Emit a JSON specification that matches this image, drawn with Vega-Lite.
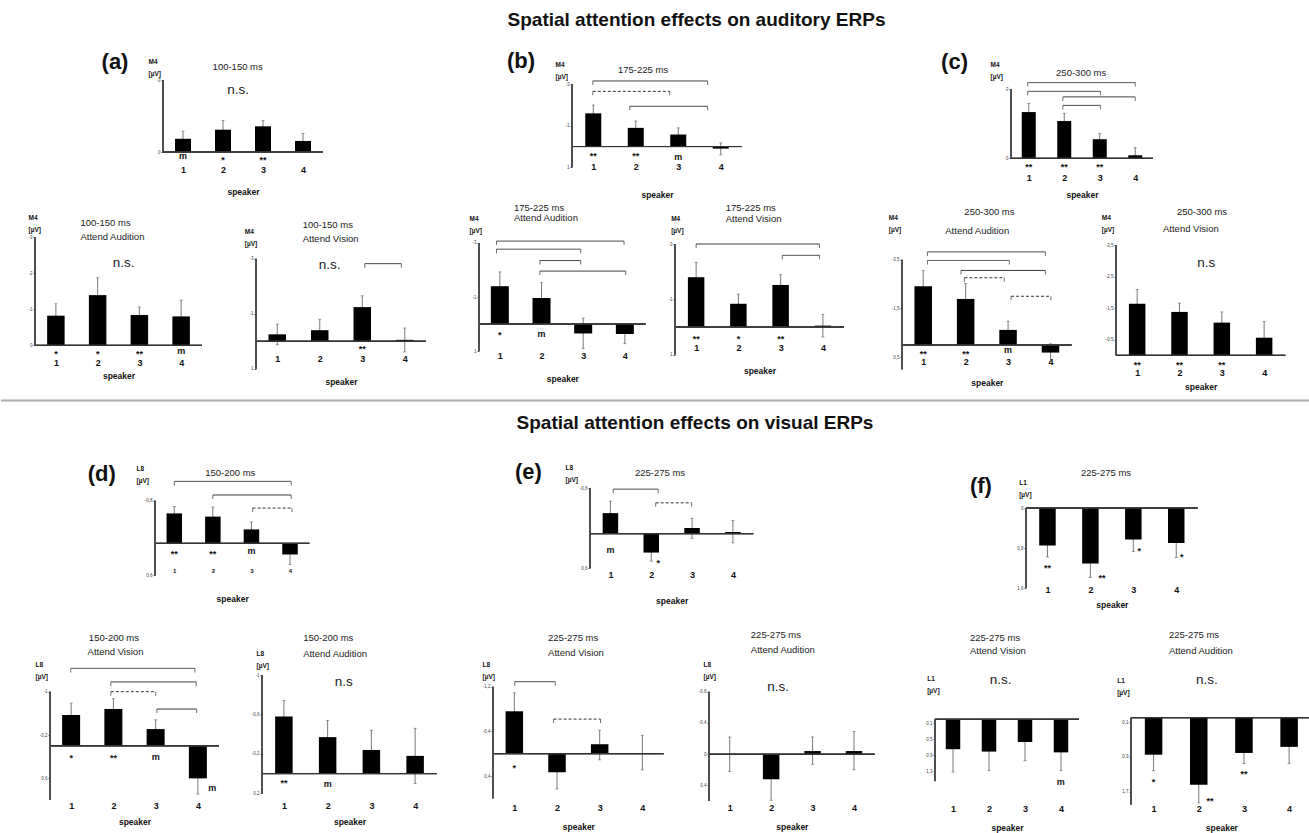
{
"$schema": "https://vega.github.io/schema/vega-lite/v6.json",
"padding": 0,
"background": "white",
"spacing": 0,
"config": {
  "font": "Liberation Sans",
  "view": {"stroke": null},
  "concat": {"spacing": 0},
  "axis": {"grid": false},
  "axisX": {"domain": false, "ticks": false, "labelFontSize": 9, "labelFontWeight": "bold", "labelColor": "#111", "labelFlush": false, "labelOverlap": false, "titleFontSize": 8.5, "titleFontWeight": "bold", "titleColor": "#111", "titleBaseline": "middle"},
  "axisY": {"domain": false, "ticks": true, "tickSize": 2, "tickColor": "#555", "labelFontSize": 4.5, "labelColor": "#444", "labelPadding": 1, "labelFlush": false, "labelOverlap": false, "labelExpr": "(datum.value < 0 ? '-' : '') + replace(format(abs(datum.value), '~g'), '.', ',')", "titleAngle": 0, "titleAlign": "left", "titleBaseline": "top", "titleFontSize": 6.5, "titleFontWeight": "bold", "titleColor": "#111", "titleLineHeight": 12},
  "style": {
    "err": {"color": "#555", "strokeWidth": 0.8},
    "zero": {"color": "#333", "strokeWidth": 1},
    "yax": {"color": "#444", "strokeWidth": 1},
    "brk": {"color": "#333", "strokeWidth": 1},
    "anc": {"opacity": 0, "strokeWidth": 0},
    "sig": {"fontSize": 9, "fontWeight": "bold", "align": "center", "baseline": "middle", "color": "#111"},
    "ns": {"fontSize": 13.5, "align": "center", "baseline": "middle", "color": "#222"},
    "ttl": {"fontSize": 9.5, "align": "left", "baseline": "middle", "color": "#222"},
    "let": {"fontSize": 22, "fontWeight": "bold", "align": "center", "baseline": "middle", "color": "#111"}
  }
},
"datasets": {
  "brA2": [{"x1":0.99,"x2":3.69,"y":-3.16,"d":0},{"x1":0.99,"x2":2.8,"y":-2.66,"d":1},{"x1":1.86,"x2":3.69,"y":-1.94,"d":0}],
  "brA3": [{"x1":0.97,"x2":4.0,"y":-3.29,"d":0},{"x1":0.97,"x2":3.02,"y":-2.91,"d":0},{"x1":1.96,"x2":4.0,"y":-2.67,"d":0},{"x1":1.96,"x2":3.02,"y":-2.3,"d":0}],
  "brB2": [{"x1":3.06,"x2":3.92,"y":-2.82,"d":0}],
  "brB3": [{"x1":0.92,"x2":3.98,"y":-3.07,"d":0},{"x1":0.92,"x2":2.94,"y":-2.77,"d":0},{"x1":1.96,"x2":2.94,"y":-2.35,"d":0},{"x1":1.96,"x2":4.02,"y":-1.96,"d":0}],
  "brB4": [{"x1":1.0,"x2":3.92,"y":-3.0,"d":0},{"x1":3.04,"x2":3.92,"y":-2.59,"d":0}],
  "brB5": [{"x1":1.1,"x2":3.88,"y":-3.82,"d":0},{"x1":1.1,"x2":3.03,"y":-3.47,"d":0},{"x1":1.89,"x2":3.88,"y":-3.06,"d":0},{"x1":1.97,"x2":2.91,"y":-2.76,"d":1},{"x1":3.07,"x2":4.01,"y":-2.0,"d":1}],
  "brC1": [{"x1":1.0,"x2":4.03,"y":-1.16,"d":0},{"x1":2.0,"x2":4.03,"y":-0.905,"d":0},{"x1":3.03,"x2":4.05,"y":-0.66,"d":1}],
  "brC2": [{"x1":1.07,"x2":2.17,"y":-0.78,"d":0},{"x1":2.11,"x2":2.99,"y":-0.54,"d":1}],
  "brD1": [{"x1":0.99,"x2":3.93,"y":-1.43,"d":0},{"x1":1.94,"x2":3.96,"y":-1.18,"d":0},{"x1":1.94,"x2":3.0,"y":-1.0,"d":1},{"x1":3.03,"x2":3.97,"y":-0.68,"d":0}],
  "brD3": [{"x1":1.01,"x2":1.96,"y":-1.29,"d":0},{"x1":1.92,"x2":3.02,"y":-0.62,"d":1}]
},
"vconcat": [
{"width": 1309, "height": 30, "data": {"values": [{"t": "Spatial attention effects on auditory ERPs"}]}, "mark": {"type": "text", "fontSize": 19, "fontWeight": "bold", "dx": 41, "dy": 5, "color": "#111"}, "encoding": {"text": {"field": "t"}}},
{"hconcat": [
{"width":1,"height":1,"data":{"values":[]},"mark":"point"},
{"width":160,"height":87.3,
"data":{"values":[{"s":1,"v":-0.55,"lo":-0.87,"hi":-0.23},{"s":2,"v":-0.93,"lo":-1.32,"hi":-0.54},{"s":3,"v":-1.07,"lo":-1.32,"hi":-0.82},{"s":4,"v":-0.46,"lo":-0.77,"hi":-0.15}]},
"layer":[
{"mark":{"type":"rule","style":"err"},"encoding":{"x":{"field":"s","type":"quantitative"},"y":{"field":"lo","type":"quantitative"},"y2":{"field":"hi"}}},
{"transform":[{"fold":["lo","hi"],"as":["k","e"]}],"mark":{"type":"tick","orient":"horizontal","size":3,"thickness":0.8,"color":"#555"},"encoding":{"x":{"field":"s","type":"quantitative"},"y":{"field":"e","type":"quantitative"}}},
{"mark":{"type":"bar","width":16,"color":"#000"},"encoding":{"x":{"field":"s","type":"quantitative","scale":{"domain":[0.5,4.5],"zero":false,"nice":false,"padding":0},"axis":{"values":[1,2,3,4],"title":"speaker","labelPadding":-1.9,"titleY":23.7}},"y":{"field":"v","type":"quantitative","scale":{"domain":[-3,0.6375],"reverse":true,"zero":false,"nice":false},"axis":{"values":[-3,-2.5,-2,-1.5,-1,-0.5,0],"title":["M4","[µV]"],"titleX":-15,"titleY":-22}},"y2":{"datum":0}}},
{"mark":{"type":"rule","style":"zero"},"encoding":{"y":{"datum":0}}},
{"mark":{"type":"rule","style":"yax"},"encoding":{"x":{"datum":0.5},"y":{"datum":-3},"y2":{"datum":0}}},
{"data":{"values":[{"x":1,"y":0.18,"t":"m"},{"x":2,"y":0.32,"t":"*"},{"x":3,"y":0.32,"t":"**"}]},"mark":{"type":"text","style":"sig"},"encoding":{"x":{"field":"x","type":"quantitative"},"y":{"field":"y","type":"quantitative"},"text":{"field":"t"}}},
{"data":{"values":[{"x":2.38,"y":-2.58,"t":"n.s."}]},"mark":{"type":"text","style":"ns"},"encoding":{"x":{"field":"x","type":"quantitative"},"y":{"field":"y","type":"quantitative"},"text":{"field":"t"}}},
{"data":{"values":[{"x":1.74,"y":-3.55,"t":"100-150 ms"}]},"mark":{"type":"text","style":"ttl"},"encoding":{"x":{"field":"x","type":"quantitative"},"y":{"field":"y","type":"quantitative"},"text":{"field":"t"}}},
{"data":{"values":[{"x":-0.7,"y":-3.75,"t":"(a)"}]},"mark":{"type":"text","style":"let"},"encoding":{"x":{"field":"x","type":"quantitative"},"y":{"field":"y","type":"quantitative"},"text":{"field":"t"}}},
{"mark":{"type":"rule","style":"anc"},"encoding":{"x":{"datum":-3.525},"x2":{"datum":6.95},"y":{"datum":-5.042},"y2":{"datum":1.958}}}
]},
{"width":170,"height":87.3,
"data":{"values":[{"s":1,"v":-1.6,"lo":-2.0,"hi":-1.2},{"s":2,"v":-0.9,"lo":-1.23,"hi":-0.57},{"s":3,"v":-0.58,"lo":-0.9,"hi":-0.26},{"s":4,"v":0.1,"lo":-0.18,"hi":0.4}]},
"layer":[
{"mark":{"type":"rule","style":"err"},"encoding":{"x":{"field":"s","type":"quantitative"},"y":{"field":"lo","type":"quantitative"},"y2":{"field":"hi"}}},
{"transform":[{"fold":["lo","hi"],"as":["k","e"]}],"mark":{"type":"tick","orient":"horizontal","size":3,"thickness":0.8,"color":"#555"},"encoding":{"x":{"field":"s","type":"quantitative"},"y":{"field":"e","type":"quantitative"}}},
{"mark":{"type":"bar","width":16,"color":"#000"},"encoding":{"x":{"field":"s","type":"quantitative","scale":{"domain":[0.5,4.5],"zero":false,"nice":false,"padding":0},"axis":{"values":[1,2,3,4],"title":"speaker","labelPadding":-5,"titleY":27}},"y":{"field":"v","type":"quantitative","scale":{"domain":[-3.207,1.0],"reverse":true,"zero":false,"nice":false},"axis":{"values":[-3,-2.5,-2,-1.5,-1,-0.5,0,0.5,1],"title":["M4","[µV]"],"titleX":-17,"titleY":-18.5}},"y2":{"datum":0}}},
{"mark":{"type":"rule","style":"zero"},"encoding":{"y":{"datum":0}}},
{"mark":{"type":"rule","style":"yax"},"encoding":{"x":{"datum":0.5},"y":{"datum":-3},"y2":{"datum":1}}},
{"data":{"name":"brA2"},"mark":{"type":"rule","style":"brk"},"encoding":{"x":{"field":"x1","type":"quantitative"},"x2":{"field":"x2"},"y":{"field":"y","type":"quantitative"},"strokeDash":{"field":"d","type":"nominal","scale":{"domain":[0,1],"range":[[1,0],[3,2]]},"legend":null}}},
{"data":{"name":"brA2"},"transform":[{"fold":["x1","x2"],"as":["k","xe"]}],"mark":{"type":"tick","orient":"vertical","size":4,"thickness":1,"yOffset":2,"color":"#333"},"encoding":{"x":{"field":"xe","type":"quantitative"},"y":{"field":"y","type":"quantitative"}}},
{"data":{"values":[{"x":1,"y":0.47,"t":"**"},{"x":2,"y":0.47,"t":"**"},{"x":3,"y":0.48,"t":"m"}]},"mark":{"type":"text","style":"sig"},"encoding":{"x":{"field":"x","type":"quantitative"},"y":{"field":"y","type":"quantitative"},"text":{"field":"t"}}},
{"data":{"values":[{"x":1.58,"y":-3.69,"t":"175-225 ms"}]},"mark":{"type":"text","style":"ttl"},"encoding":{"x":{"field":"x","type":"quantitative"},"y":{"field":"y","type":"quantitative"},"text":{"field":"t"}}},
{"data":{"values":[{"x":-0.7,"y":-4.12,"t":"(b)"}]},"mark":{"type":"text","style":"let"},"encoding":{"x":{"field":"x","type":"quantitative"},"y":{"field":"y","type":"quantitative"},"text":{"field":"t"}}},
{"mark":{"type":"rule","style":"anc"},"encoding":{"x":{"datum":-3.03},"x2":{"datum":7.32},"y":{"datum":-5.57},"y2":{"datum":2.528}}}
]},
{"width":142,"height":87.3,
"data":{"values":[{"s":1,"v":-2.01,"lo":-2.38,"hi":-1.64},{"s":2,"v":-1.62,"lo":-1.96,"hi":-1.28},{"s":3,"v":-0.83,"lo":-1.07,"hi":-0.59},{"s":4,"v":-0.13,"lo":-0.46,"hi":-0.13}]},
"layer":[
{"mark":{"type":"rule","style":"err"},"encoding":{"x":{"field":"s","type":"quantitative"},"y":{"field":"lo","type":"quantitative"},"y2":{"field":"hi"}}},
{"transform":[{"fold":["lo","hi"],"as":["k","e"]}],"mark":{"type":"tick","orient":"horizontal","size":3,"thickness":0.8,"color":"#555"},"encoding":{"x":{"field":"s","type":"quantitative"},"y":{"field":"e","type":"quantitative"}}},
{"mark":{"type":"bar","width":14,"color":"#000"},"encoding":{"x":{"field":"s","type":"quantitative","scale":{"domain":[0.5,4.5],"zero":false,"nice":false,"padding":0},"axis":{"values":[1,2,3,4],"title":"speaker","labelPadding":6.5,"titleY":27}},"y":{"field":"v","type":"quantitative","scale":{"domain":[-3.404,0.392],"reverse":true,"zero":false,"nice":false},"axis":{"values":[-3,-2.5,-2,-1.5,-1,-0.5,0],"title":["M4","[µV]"],"titleX":-21,"titleY":-18.5}},"y2":{"datum":0}}},
{"mark":{"type":"rule","style":"zero"},"encoding":{"y":{"datum":0}}},
{"mark":{"type":"rule","style":"yax"},"encoding":{"x":{"datum":0.5},"y":{"datum":-3},"y2":{"datum":0}}},
{"data":{"name":"brA3"},"mark":{"type":"rule","style":"brk"},"encoding":{"x":{"field":"x1","type":"quantitative"},"x2":{"field":"x2"},"y":{"field":"y","type":"quantitative"},"strokeDash":{"field":"d","type":"nominal","scale":{"domain":[0,1],"range":[[1,0],[3,2]]},"legend":null}}},
{"data":{"name":"brA3"},"transform":[{"fold":["x1","x2"],"as":["k","xe"]}],"mark":{"type":"tick","orient":"vertical","size":4,"thickness":1,"yOffset":2,"color":"#333"},"encoding":{"x":{"field":"xe","type":"quantitative"},"y":{"field":"y","type":"quantitative"}}},
{"data":{"values":[{"x":1,"y":0.39,"t":"**"},{"x":2,"y":0.39,"t":"**"},{"x":3,"y":0.39,"t":"**"}]},"mark":{"type":"text","style":"sig"},"encoding":{"x":{"field":"x","type":"quantitative"},"y":{"field":"y","type":"quantitative"},"text":{"field":"t"}}},
{"data":{"values":[{"x":1.77,"y":-3.72,"t":"250-300 ms"}]},"mark":{"type":"text","style":"ttl"},"encoding":{"x":{"field":"x","type":"quantitative"},"y":{"field":"y","type":"quantitative"},"text":{"field":"t"}}},
{"data":{"values":[{"x":-1.09,"y":-4.2,"t":"(c)"}]},"mark":{"type":"text","style":"let"},"encoding":{"x":{"field":"x","type":"quantitative"},"y":{"field":"y","type":"quantitative"},"text":{"field":"t"}}},
{"mark":{"type":"rule","style":"anc"},"encoding":{"x":{"datum":-3.68},"x2":{"datum":8.97},"y":{"datum":-5.53},"y2":{"datum":1.77}}}
]}
], "spacing": 0},
{"hconcat": [
{"width":1,"height":1,"data":{"values":[]},"mark":"point"},
{"width":167,"height":132.4,
"data":{"values":[{"s":1,"v":-0.82,"lo":-1.15,"hi":-0.49},{"s":2,"v":-1.39,"lo":-1.87,"hi":-0.91},{"s":3,"v":-0.84,"lo":-1.06,"hi":-0.62},{"s":4,"v":-0.8,"lo":-1.25,"hi":-0.35}]},
"layer":[
{"mark":{"type":"rule","style":"err"},"encoding":{"x":{"field":"s","type":"quantitative"},"y":{"field":"lo","type":"quantitative"},"y2":{"field":"hi"}}},
{"transform":[{"fold":["lo","hi"],"as":["k","e"]}],"mark":{"type":"tick","orient":"horizontal","size":3,"thickness":0.8,"color":"#555"},"encoding":{"x":{"field":"s","type":"quantitative"},"y":{"field":"e","type":"quantitative"}}},
{"mark":{"type":"bar","width":17.5,"color":"#000"},"encoding":{"x":{"field":"s","type":"quantitative","scale":{"domain":[0.5,4.5],"zero":false,"nice":false,"padding":0},"axis":{"values":[1,2,3,4],"title":"speaker","labelPadding":-11.3,"titleY":5.9}},"y":{"field":"v","type":"quantitative","scale":{"domain":[-3,0.668],"reverse":true,"zero":false,"nice":false},"axis":{"values":[-3,-2.5,-2,-1.5,-1,-0.5,0],"title":["M4","[µV]"],"titleX":-7,"titleY":-22.8}},"y2":{"datum":0}}},
{"mark":{"type":"rule","style":"zero"},"encoding":{"y":{"datum":0}}},
{"mark":{"type":"rule","style":"yax"},"encoding":{"x":{"datum":0.5},"y":{"datum":-3},"y2":{"datum":0}}},
{"data":{"values":[{"x":1,"y":0.24,"t":"*"},{"x":2,"y":0.24,"t":"*"},{"x":3,"y":0.24,"t":"**"},{"x":4,"y":0.17,"t":"m"}]},"mark":{"type":"text","style":"sig"},"encoding":{"x":{"field":"x","type":"quantitative"},"y":{"field":"y","type":"quantitative"},"text":{"field":"t"}}},
{"data":{"values":[{"x":2.62,"y":-2.29,"t":"n.s."}]},"mark":{"type":"text","style":"ns"},"encoding":{"x":{"field":"x","type":"quantitative"},"y":{"field":"y","type":"quantitative"},"text":{"field":"t"}}},
{"data":{"values":[{"x":1.59,"y":-3.4,"t":"100-150 ms"},{"x":1.59,"y":-3.0,"t":"Attend Audition"}]},"mark":{"type":"text","style":"ttl"},"encoding":{"x":{"field":"x","type":"quantitative"},"y":{"field":"y","type":"quantitative"},"text":{"field":"t"}}},
{"mark":{"type":"rule","style":"anc"},"encoding":{"x":{"datum":-0.274},"x2":{"datum":5.09},"y":{"datum":-3.997},"y2":{"datum":1.322}}}
]},
{"width":170,"height":132.4,
"data":{"values":[{"s":1,"v":-0.25,"lo":-0.62,"hi":0.13},{"s":2,"v":-0.4,"lo":-0.8,"hi":0.0},{"s":3,"v":-1.24,"lo":-1.65,"hi":-0.83},{"s":4,"v":-0.05,"lo":-0.48,"hi":0.39}]},
"layer":[
{"mark":{"type":"rule","style":"err"},"encoding":{"x":{"field":"s","type":"quantitative"},"y":{"field":"lo","type":"quantitative"},"y2":{"field":"hi"}}},
{"transform":[{"fold":["lo","hi"],"as":["k","e"]}],"mark":{"type":"tick","orient":"horizontal","size":3,"thickness":0.8,"color":"#555"},"encoding":{"x":{"field":"s","type":"quantitative"},"y":{"field":"e","type":"quantitative"}}},
{"mark":{"type":"bar","width":17.5,"color":"#000"},"encoding":{"x":{"field":"s","type":"quantitative","scale":{"domain":[0.5,4.5],"zero":false,"nice":false,"padding":0},"axis":{"values":[1,2,3,4],"title":"speaker","labelPadding":-14.6,"titleY":11.9}},"y":{"field":"v","type":"quantitative","scale":{"domain":[-3.789,1.025],"reverse":true,"zero":false,"nice":false},"axis":{"values":[-3,-2.5,-2,-1.5,-1,-0.5,0,0.5,1],"title":["M4","[µV]"],"titleX":-11.7,"titleY":-8.8}},"y2":{"datum":0}}},
{"mark":{"type":"rule","style":"zero"},"encoding":{"y":{"datum":0}}},
{"mark":{"type":"rule","style":"yax"},"encoding":{"x":{"datum":0.5},"y":{"datum":-3},"y2":{"datum":1}}},
{"data":{"name":"brB2"},"mark":{"type":"rule","style":"brk"},"encoding":{"x":{"field":"x1","type":"quantitative"},"x2":{"field":"x2"},"y":{"field":"y","type":"quantitative"},"strokeDash":{"field":"d","type":"nominal","scale":{"domain":[0,1],"range":[[1,0],[3,2]]},"legend":null}}},
{"data":{"name":"brB2"},"transform":[{"fold":["x1","x2"],"as":["k","xe"]}],"mark":{"type":"tick","orient":"vertical","size":4,"thickness":1,"yOffset":2,"color":"#333"},"encoding":{"x":{"field":"xe","type":"quantitative"},"y":{"field":"y","type":"quantitative"}}},
{"data":{"values":[{"x":3,"y":0.3,"t":"**"}]},"mark":{"type":"text","style":"sig"},"encoding":{"x":{"field":"x","type":"quantitative"},"y":{"field":"y","type":"quantitative"},"text":{"field":"t"}}},
{"data":{"values":[{"x":2.23,"y":-2.78,"t":"n.s."}]},"mark":{"type":"text","style":"ns"},"encoding":{"x":{"field":"x","type":"quantitative"},"y":{"field":"y","type":"quantitative"},"text":{"field":"t"}}},
{"data":{"values":[{"x":1.6,"y":-4.21,"t":"100-150 ms"},{"x":1.6,"y":-3.71,"t":"Attend Vision"}]},"mark":{"type":"text","style":"ttl"},"encoding":{"x":{"field":"x","type":"quantitative"},"y":{"field":"y","type":"quantitative"},"text":{"field":"t"}}},
{"mark":{"type":"rule","style":"anc"},"encoding":{"x":{"datum":-0.18},"x2":{"datum":4.99},"y":{"datum":-5.098},"y2":{"datum":1.884}}}
]},
{"width":166.7,"height":132.4,
"data":{"values":[{"s":1,"v":-1.4,"lo":-1.93,"hi":-0.87},{"s":2,"v":-0.96,"lo":-1.53,"hi":-0.39},{"s":3,"v":0.35,"lo":-0.22,"hi":0.91},{"s":4,"v":0.37,"lo":0.01,"hi":0.73}]},
"layer":[
{"mark":{"type":"rule","style":"err"},"encoding":{"x":{"field":"s","type":"quantitative"},"y":{"field":"lo","type":"quantitative"},"y2":{"field":"hi"}}},
{"transform":[{"fold":["lo","hi"],"as":["k","e"]}],"mark":{"type":"tick","orient":"horizontal","size":3,"thickness":0.8,"color":"#555"},"encoding":{"x":{"field":"s","type":"quantitative"},"y":{"field":"e","type":"quantitative"}}},
{"mark":{"type":"bar","width":18,"color":"#000"},"encoding":{"x":{"field":"s","type":"quantitative","scale":{"domain":[0.5,4.5],"zero":false,"nice":false,"padding":0},"axis":{"values":[1,2,3,4],"title":"speaker","labelPadding":-18.0,"titleY":9.3}},"y":{"field":"v","type":"quantitative","scale":{"domain":[-3.222,1.681],"reverse":true,"zero":false,"nice":false},"axis":{"values":[-3,-2.5,-2,-1.5,-1,-0.5,0,0.5,1],"title":["M4","[µV]"],"titleX":-10,"titleY":-21.8}},"y2":{"datum":0}}},
{"mark":{"type":"rule","style":"zero"},"encoding":{"y":{"datum":0}}},
{"mark":{"type":"rule","style":"yax"},"encoding":{"x":{"datum":0.5},"y":{"datum":-3},"y2":{"datum":1}}},
{"data":{"name":"brB3"},"mark":{"type":"rule","style":"brk"},"encoding":{"x":{"field":"x1","type":"quantitative"},"x2":{"field":"x2"},"y":{"field":"y","type":"quantitative"},"strokeDash":{"field":"d","type":"nominal","scale":{"domain":[0,1],"range":[[1,0],[3,2]]},"legend":null}}},
{"data":{"name":"brB3"},"transform":[{"fold":["x1","x2"],"as":["k","xe"]}],"mark":{"type":"tick","orient":"vertical","size":4,"thickness":1,"yOffset":2,"color":"#333"},"encoding":{"x":{"field":"xe","type":"quantitative"},"y":{"field":"y","type":"quantitative"}}},
{"data":{"values":[{"x":1,"y":0.39,"t":"*"},{"x":2,"y":0.36,"t":"m"}]},"mark":{"type":"text","style":"sig"},"encoding":{"x":{"field":"x","type":"quantitative"},"y":{"field":"y","type":"quantitative"},"text":{"field":"t"}}},
{"data":{"values":[{"x":1.34,"y":-4.314,"t":"175-225 ms"},{"x":1.34,"y":-3.91,"t":"Attend Audition"}]},"mark":{"type":"text","style":"ttl"},"encoding":{"x":{"field":"x","type":"quantitative"},"y":{"field":"y","type":"quantitative"},"text":{"field":"t"}}},
{"mark":{"type":"rule","style":"anc"},"encoding":{"x":{"datum":-0.26},"x2":{"datum":4.78},"y":{"datum":-4.556},"y2":{"datum":2.553}}}
]},
{"width":169,"height":132.4,
"data":{"values":[{"s":1,"v":-1.8,"lo":-2.33,"hi":-1.27},{"s":2,"v":-0.84,"lo":-1.19,"hi":-0.49},{"s":3,"v":-1.52,"lo":-1.89,"hi":-1.15},{"s":4,"v":-0.05,"lo":-0.46,"hi":0.36}]},
"layer":[
{"mark":{"type":"rule","style":"err"},"encoding":{"x":{"field":"s","type":"quantitative"},"y":{"field":"lo","type":"quantitative"},"y2":{"field":"hi"}}},
{"transform":[{"fold":["lo","hi"],"as":["k","e"]}],"mark":{"type":"tick","orient":"horizontal","size":3,"thickness":0.8,"color":"#555"},"encoding":{"x":{"field":"s","type":"quantitative"},"y":{"field":"e","type":"quantitative"}}},
{"mark":{"type":"bar","width":16.5,"color":"#000"},"encoding":{"x":{"field":"s","type":"quantitative","scale":{"domain":[0.5,4.5],"zero":false,"nice":false,"padding":0},"axis":{"values":[1,2,3,4],"title":"speaker","labelPadding":-26.3,"titleY":1.0}},"y":{"field":"v","type":"quantitative","scale":{"domain":[-3.253,1.532],"reverse":true,"zero":false,"nice":false},"axis":{"values":[-3,-2.5,-2,-1.5,-1,-0.5,0,0.5,1],"title":["M4","[µV]"],"titleX":-4.3,"titleY":-21.8}},"y2":{"datum":0}}},
{"mark":{"type":"rule","style":"zero"},"encoding":{"y":{"datum":0}}},
{"mark":{"type":"rule","style":"yax"},"encoding":{"x":{"datum":0.5},"y":{"datum":-3},"y2":{"datum":1}}},
{"data":{"name":"brB4"},"mark":{"type":"rule","style":"brk"},"encoding":{"x":{"field":"x1","type":"quantitative"},"x2":{"field":"x2"},"y":{"field":"y","type":"quantitative"},"strokeDash":{"field":"d","type":"nominal","scale":{"domain":[0,1],"range":[[1,0],[3,2]]},"legend":null}}},
{"data":{"name":"brB4"},"transform":[{"fold":["x1","x2"],"as":["k","xe"]}],"mark":{"type":"tick","orient":"vertical","size":4,"thickness":1,"yOffset":2,"color":"#333"},"encoding":{"x":{"field":"xe","type":"quantitative"},"y":{"field":"y","type":"quantitative"}}},
{"data":{"values":[{"x":1,"y":0.42,"t":"**"},{"x":2,"y":0.42,"t":"*"},{"x":3,"y":0.42,"t":"**"}]},"mark":{"type":"text","style":"sig"},"encoding":{"x":{"field":"x","type":"quantitative"},"y":{"field":"y","type":"quantitative"},"text":{"field":"t"}}},
{"data":{"values":[{"x":1.7,"y":-4.319,"t":"175-225 ms"},{"x":1.7,"y":-3.92,"t":"Attend Vision"}]},"mark":{"type":"text","style":"ttl"},"encoding":{"x":{"field":"x","type":"quantitative"},"y":{"field":"y","type":"quantitative"},"text":{"field":"t"}}},
{"mark":{"type":"rule","style":"anc"},"encoding":{"x":{"datum":0.12},"x2":{"datum":5.09},"y":{"datum":-4.554},"y2":{"datum":2.384}}}
]},
{"width":169.7,"height":132.4,
"data":{"values":[{"s":1,"v":-2.41,"lo":-3.05,"hi":-1.77},{"s":2,"v":-1.89,"lo":-2.53,"hi":-1.25},{"s":3,"v":-0.62,"lo":-0.98,"hi":-0.26},{"s":4,"v":0.31,"lo":-0.05,"hi":0.67}]},
"layer":[
{"mark":{"type":"rule","style":"err"},"encoding":{"x":{"field":"s","type":"quantitative"},"y":{"field":"lo","type":"quantitative"},"y2":{"field":"hi"}}},
{"transform":[{"fold":["lo","hi"],"as":["k","e"]}],"mark":{"type":"tick","orient":"horizontal","size":3,"thickness":0.8,"color":"#555"},"encoding":{"x":{"field":"s","type":"quantitative"},"y":{"field":"e","type":"quantitative"}}},
{"mark":{"type":"bar","width":17.5,"color":"#000"},"encoding":{"x":{"field":"s","type":"quantitative","scale":{"domain":[0.5,4.5],"zero":false,"nice":false,"padding":0},"axis":{"values":[1,2,3,4],"title":"speaker","labelPadding":-11.9,"titleY":13.4}},"y":{"field":"v","type":"quantitative","scale":{"domain":[-4.431,1.0],"reverse":true,"zero":false,"nice":false},"axis":{"values":[-3.5,-3,-2.5,-2,-1.5,-1,-0.5,0,0.5,1],"title":["M4","[µV]"],"titleX":-13.7,"titleY":-22.1}},"y2":{"datum":0}}},
{"mark":{"type":"rule","style":"zero"},"encoding":{"y":{"datum":0}}},
{"mark":{"type":"rule","style":"yax"},"encoding":{"x":{"datum":0.5},"y":{"datum":-3.5},"y2":{"datum":1}}},
{"data":{"name":"brB5"},"mark":{"type":"rule","style":"brk"},"encoding":{"x":{"field":"x1","type":"quantitative"},"x2":{"field":"x2"},"y":{"field":"y","type":"quantitative"},"strokeDash":{"field":"d","type":"nominal","scale":{"domain":[0,1],"range":[[1,0],[3,2]]},"legend":null}}},
{"data":{"name":"brB5"},"transform":[{"fold":["x1","x2"],"as":["k","xe"]}],"mark":{"type":"tick","orient":"vertical","size":4,"thickness":1,"yOffset":2,"color":"#333"},"encoding":{"x":{"field":"xe","type":"quantitative"},"y":{"field":"y","type":"quantitative"}}},
{"data":{"values":[{"x":1,"y":0.35,"t":"**"},{"x":2,"y":0.35,"t":"**"},{"x":3,"y":0.22,"t":"m"}]},"mark":{"type":"text","style":"sig"},"encoding":{"x":{"field":"x","type":"quantitative"},"y":{"field":"y","type":"quantitative"},"text":{"field":"t"}}},
{"data":{"values":[{"x":1.97,"y":-5.46,"t":"250-300 ms"},{"x":1.52,"y":-4.68,"t":"Attend Audition"}]},"mark":{"type":"text","style":"ttl"},"encoding":{"x":{"field":"x","type":"quantitative"},"y":{"field":"y","type":"quantitative"},"text":{"field":"t"}}},
{"mark":{"type":"rule","style":"anc"},"encoding":{"x":{"datum":-0.27},"x2":{"datum":4.92},"y":{"datum":-5.908},"y2":{"datum":1.969}}}
]},
{"width":169.3,"height":132.4,
"data":{"values":[{"s":1,"v":-1.64,"lo":-2.09,"hi":-1.19},{"s":2,"v":-1.38,"lo":-1.66,"hi":-1.1},{"s":3,"v":-1.04,"lo":-1.38,"hi":-0.7},{"s":4,"v":-0.56,"lo":-1.08,"hi":-0.04}]},
"layer":[
{"mark":{"type":"rule","style":"err"},"encoding":{"x":{"field":"s","type":"quantitative"},"y":{"field":"lo","type":"quantitative"},"y2":{"field":"hi"}}},
{"transform":[{"fold":["lo","hi"],"as":["k","e"]}],"mark":{"type":"tick","orient":"horizontal","size":3,"thickness":0.8,"color":"#555"},"encoding":{"x":{"field":"s","type":"quantitative"},"y":{"field":"e","type":"quantitative"}}},
{"mark":{"type":"bar","width":16.5,"color":"#000"},"encoding":{"x":{"field":"s","type":"quantitative","scale":{"domain":[0.5,4.5],"zero":false,"nice":false,"padding":0},"axis":{"values":[1,2,3,4],"title":"speaker","labelPadding":-1.3,"titleY":16.6}},"y":{"field":"v","type":"quantitative","scale":{"domain":[-3.764,0.449],"reverse":true,"zero":false,"nice":false},"axis":{"values":[-3.5,-3,-2.5,-2,-1.5,-1,-0.5,0],"title":["M4","[µV]"],"titleX":-14.7,"titleY":-22.8}},"y2":{"datum":0}}},
{"mark":{"type":"rule","style":"zero"},"encoding":{"y":{"datum":0}}},
{"mark":{"type":"rule","style":"yax"},"encoding":{"x":{"datum":0.5},"y":{"datum":-3.5},"y2":{"datum":0}}},
{"data":{"values":[{"x":1,"y":0.31,"t":"**"},{"x":2,"y":0.31,"t":"**"},{"x":3,"y":0.31,"t":"**"}]},"mark":{"type":"text","style":"sig"},"encoding":{"x":{"field":"x","type":"quantitative"},"y":{"field":"y","type":"quantitative"},"text":{"field":"t"}}},
{"data":{"values":[{"x":2.63,"y":-2.94,"t":"n.s"}]},"mark":{"type":"text","style":"ns"},"encoding":{"x":{"field":"x","type":"quantitative"},"y":{"field":"y","type":"quantitative"},"text":{"field":"t"}}},
{"data":{"values":[{"x":1.94,"y":-4.56,"t":"250-300 ms"},{"x":1.61,"y":-4.03,"t":"Attend Vision"}]},"mark":{"type":"text","style":"ttl"},"encoding":{"x":{"field":"x","type":"quantitative"},"y":{"field":"y","type":"quantitative"},"text":{"field":"t"}}},
{"mark":{"type":"rule","style":"anc"},"encoding":{"x":{"datum":-0.11},"x2":{"datum":5.18},"y":{"datum":-4.909},"y2":{"datum":1.198}}}
]}
], "spacing": 0},
{"width": 1309, "height": 13, "data": {"values": [{}]}, "mark": {"type": "rule", "color": "#aaa", "strokeWidth": 2}, "encoding": {"y": {"datum": 0.5, "scale": {"domain": [0, 1]}, "axis": null}}},
{"width": 1309, "height": 30, "data": {"values": [{"t": "Spatial attention effects on visual ERPs"}]}, "mark": {"type": "text", "fontSize": 19, "fontWeight": "bold", "dx": 39.5, "dy": 1, "color": "#111"}, "encoding": {"text": {"field": "t"}}},
{"hconcat": [
{"width":1,"height":1,"data":{"values":[]},"mark":"point"},
{"width":154.3,"height":100,
"data":{"values":[{"s":1,"v":-0.56,"lo":-0.69,"hi":-0.43},{"s":2,"v":-0.5,"lo":-0.68,"hi":-0.32},{"s":3,"v":-0.26,"lo":-0.4,"hi":-0.12},{"s":4,"v":0.21,"lo":0.02,"hi":0.4}]},
"layer":[
{"mark":{"type":"rule","style":"err"},"encoding":{"x":{"field":"s","type":"quantitative"},"y":{"field":"lo","type":"quantitative"},"y2":{"field":"hi"}}},
{"transform":[{"fold":["lo","hi"],"as":["k","e"]}],"mark":{"type":"tick","orient":"horizontal","size":3,"thickness":0.8,"color":"#555"},"encoding":{"x":{"field":"s","type":"quantitative"},"y":{"field":"e","type":"quantitative"}}},
{"mark":{"type":"bar","width":15.5,"color":"#000"},"encoding":{"x":{"field":"s","type":"quantitative","scale":{"domain":[0.5,4.5],"zero":false,"nice":false,"padding":0},"axis":{"values":[1,2,3,4],"title":"speaker","labelFontSize":6,"labelPadding":-20.6,"titleY":10.0}},"y":{"field":"v","type":"quantitative","scale":{"domain":[-1.036,0.838],"reverse":true,"zero":false,"nice":false},"axis":{"values":[-0.8,-0.6,-0.4,-0.2,0,0.2,0.4,0.6],"title":["L8","[µV]"],"titleX":-19,"titleY":-22.8}},"y2":{"datum":0}}},
{"mark":{"type":"rule","style":"zero"},"encoding":{"y":{"datum":0}}},
{"mark":{"type":"rule","style":"yax"},"encoding":{"x":{"datum":0.5},"y":{"datum":-0.8},"y2":{"datum":0.6}}},
{"data":{"name":"brC1"},"mark":{"type":"rule","style":"brk"},"encoding":{"x":{"field":"x1","type":"quantitative"},"x2":{"field":"x2"},"y":{"field":"y","type":"quantitative"},"strokeDash":{"field":"d","type":"nominal","scale":{"domain":[0,1],"range":[[1,0],[3,2]]},"legend":null}}},
{"data":{"name":"brC1"},"transform":[{"fold":["x1","x2"],"as":["k","xe"]}],"mark":{"type":"tick","orient":"vertical","size":4,"thickness":1,"yOffset":2,"color":"#333"},"encoding":{"x":{"field":"xe","type":"quantitative"},"y":{"field":"y","type":"quantitative"}}},
{"data":{"values":[{"x":1,"y":0.195,"t":"**"},{"x":2,"y":0.195,"t":"**"},{"x":3,"y":0.15,"t":"m"}]},"mark":{"type":"text","style":"sig"},"encoding":{"x":{"field":"x","type":"quantitative"},"y":{"field":"y","type":"quantitative"},"text":{"field":"t"}}},
{"data":{"values":[{"x":1.8,"y":-1.31,"t":"150-200 ms"}]},"mark":{"type":"text","style":"ttl"},"encoding":{"x":{"field":"x","type":"quantitative"},"y":{"field":"y","type":"quantitative"},"text":{"field":"t"}}},
{"data":{"values":[{"x":-0.88,"y":-1.3,"t":"(d)"}]},"mark":{"type":"text","style":"let"},"encoding":{"x":{"field":"x","type":"quantitative"},"y":{"field":"y","type":"quantitative"},"text":{"field":"t"}}},
{"mark":{"type":"rule","style":"anc"},"encoding":{"x":{"datum":-3.466},"x2":{"datum":8.17},"y":{"datum":-1.986},"y2":{"datum":1.537}}}
]},
{"width":163.3,"height":100,
"data":{"values":[{"s":1,"v":-0.36,"lo":-0.57,"hi":-0.15},{"s":2,"v":0.33,"lo":0.18,"hi":0.48},{"s":3,"v":-0.1,"lo":-0.27,"hi":0.08},{"s":4,"v":-0.03,"lo":-0.23,"hi":0.16}]},
"layer":[
{"mark":{"type":"rule","style":"err"},"encoding":{"x":{"field":"s","type":"quantitative"},"y":{"field":"lo","type":"quantitative"},"y2":{"field":"hi"}}},
{"transform":[{"fold":["lo","hi"],"as":["k","e"]}],"mark":{"type":"tick","orient":"horizontal","size":3,"thickness":0.8,"color":"#555"},"encoding":{"x":{"field":"s","type":"quantitative"},"y":{"field":"e","type":"quantitative"}}},
{"mark":{"type":"bar","width":15.5,"color":"#000"},"encoding":{"x":{"field":"s","type":"quantitative","scale":{"domain":[0.5,4.5],"zero":false,"nice":false,"padding":0},"axis":{"values":[1,2,3,4],"title":"speaker","labelPadding":-17.3,"titleY":12.6}},"y":{"field":"v","type":"quantitative","scale":{"domain":[-0.8,0.95],"reverse":true,"zero":false,"nice":false},"axis":{"values":[-0.8,-0.6,-0.4,-0.2,0,0.2,0.4,0.6],"title":["L8","[µV]"],"titleX":-25,"titleY":-23.8}},"y2":{"datum":0}}},
{"mark":{"type":"rule","style":"zero"},"encoding":{"y":{"datum":0}}},
{"mark":{"type":"rule","style":"yax"},"encoding":{"x":{"datum":0.5},"y":{"datum":-0.8},"y2":{"datum":0.6}}},
{"data":{"name":"brC2"},"mark":{"type":"rule","style":"brk"},"encoding":{"x":{"field":"x1","type":"quantitative"},"x2":{"field":"x2"},"y":{"field":"y","type":"quantitative"},"strokeDash":{"field":"d","type":"nominal","scale":{"domain":[0,1],"range":[[1,0],[3,2]]},"legend":null}}},
{"data":{"name":"brC2"},"transform":[{"fold":["x1","x2"],"as":["k","xe"]}],"mark":{"type":"tick","orient":"vertical","size":4,"thickness":1,"yOffset":2,"color":"#333"},"encoding":{"x":{"field":"xe","type":"quantitative"},"y":{"field":"y","type":"quantitative"}}},
{"data":{"values":[{"x":1,"y":0.28,"t":"m"},{"x":2.17,"y":0.51,"t":"*"}]},"mark":{"type":"text","style":"sig"},"encoding":{"x":{"field":"x","type":"quantitative"},"y":{"field":"y","type":"quantitative"},"text":{"field":"t"}}},
{"data":{"values":[{"x":1.6,"y":-1.06,"t":"225-275 ms"}]},"mark":{"type":"text","style":"ttl"},"encoding":{"x":{"field":"x","type":"quantitative"},"y":{"field":"y","type":"quantitative"},"text":{"field":"t"}}},
{"data":{"values":[{"x":-1.01,"y":-1.08,"t":"(e)"}]},"mark":{"type":"text","style":"let"},"encoding":{"x":{"field":"x","type":"quantitative"},"y":{"field":"y","type":"quantitative"},"text":{"field":"t"}}},
{"mark":{"type":"rule","style":"anc"},"encoding":{"x":{"datum":-2.89},"x2":{"datum":8.13},"y":{"datum":-1.687},"y2":{"datum":1.602}}}
]},
{"width":171.7,"height":100,
"data":{"values":[{"s":1,"v":0.75,"lo":0.52,"hi":0.98},{"s":2,"v":1.11,"lo":0.83,"hi":1.39},{"s":3,"v":0.63,"lo":0.39,"hi":0.87},{"s":4,"v":0.7,"lo":0.41,"hi":0.99}]},
"layer":[
{"mark":{"type":"rule","style":"err"},"encoding":{"x":{"field":"s","type":"quantitative"},"y":{"field":"lo","type":"quantitative"},"y2":{"field":"hi"}}},
{"transform":[{"fold":["lo","hi"],"as":["k","e"]}],"mark":{"type":"tick","orient":"horizontal","size":3,"thickness":0.8,"color":"#555"},"encoding":{"x":{"field":"s","type":"quantitative"},"y":{"field":"e","type":"quantitative"}}},
{"mark":{"type":"bar","width":16.5,"color":"#000"},"encoding":{"x":{"field":"s","type":"quantitative","scale":{"domain":[0.5,4.5],"zero":false,"nice":false,"padding":0},"axis":{"values":[1,2,3,4],"title":"speaker","labelPadding":-2.3,"titleY":16.6}},"y":{"field":"v","type":"quantitative","scale":{"domain":[-0.4,1.6],"reverse":true,"zero":false,"nice":false},"axis":{"values":[0,0.2,0.4,0.6,0.8,1,1.2,1.4,1.6],"title":["L1","[µV]"],"titleX":-7.3,"titleY":-8.5}},"y2":{"datum":0}}},
{"mark":{"type":"rule","style":"zero"},"encoding":{"y":{"datum":0}}},
{"mark":{"type":"rule","style":"yax"},"encoding":{"x":{"datum":0.5},"y":{"datum":0},"y2":{"datum":1.6}}},
{"data":{"values":[{"x":1,"y":1.2,"t":"**"},{"x":2.27,"y":1.4,"t":"**"},{"x":3.14,"y":0.85,"t":"*"},{"x":4.13,"y":0.97,"t":"*"}]},"mark":{"type":"text","style":"sig"},"encoding":{"x":{"field":"x","type":"quantitative"},"y":{"field":"y","type":"quantitative"},"text":{"field":"t"}}},
{"data":{"values":[{"x":1.78,"y":-0.71,"t":"225-275 ms"}]},"mark":{"type":"text","style":"ttl"},"encoding":{"x":{"field":"x","type":"quantitative"},"y":{"field":"y","type":"quantitative"},"text":{"field":"t"}}},
{"data":{"values":[{"x":-0.55,"y":-0.45,"t":"(f)"}]},"mark":{"type":"text","style":"let"},"encoding":{"x":{"field":"x","type":"quantitative"},"y":{"field":"y","type":"quantitative"},"text":{"field":"t"}}},
{"mark":{"type":"rule","style":"anc"},"encoding":{"x":{"datum":-2.37},"x2":{"datum":7.16},"y":{"datum":-1.414},"y2":{"datum":2.346}}}
]}
], "spacing": 0},
{"hconcat": [
{"width":1,"height":1,"data":{"values":[]},"mark":"point"},
{"width":169,"height":129.7,
"data":{"values":[{"s":1,"v":-0.57,"lo":-0.79,"hi":-0.35},{"s":2,"v":-0.68,"lo":-0.87,"hi":-0.49},{"s":3,"v":-0.31,"lo":-0.48,"hi":-0.14},{"s":4,"v":0.6,"lo":0.31,"hi":0.89}]},
"layer":[
{"mark":{"type":"rule","style":"err"},"encoding":{"x":{"field":"s","type":"quantitative"},"y":{"field":"lo","type":"quantitative"},"y2":{"field":"hi"}}},
{"transform":[{"fold":["lo","hi"],"as":["k","e"]}],"mark":{"type":"tick","orient":"horizontal","size":3,"thickness":0.8,"color":"#555"},"encoding":{"x":{"field":"s","type":"quantitative"},"y":{"field":"e","type":"quantitative"}}},
{"mark":{"type":"bar","width":18,"color":"#000"},"encoding":{"x":{"field":"s","type":"quantitative","scale":{"domain":[0.5,4.5],"zero":false,"nice":false,"padding":0},"axis":{"values":[1,2,3,4],"title":"speaker","labelPadding":-2.9,"titleY":17.2}},"y":{"field":"v","type":"quantitative","scale":{"domain":[-1.308,1.086],"reverse":true,"zero":false,"nice":false},"axis":{"values":[-1,-0.8,-0.6,-0.4,-0.2,0,0.2,0.4,0.6,0.8,1],"title":["L8","[µV]"],"titleX":-15,"titleY":-13.8}},"y2":{"datum":0}}},
{"mark":{"type":"rule","style":"zero"},"encoding":{"y":{"datum":0}}},
{"mark":{"type":"rule","style":"yax"},"encoding":{"x":{"datum":0.5},"y":{"datum":-1},"y2":{"datum":1}}},
{"data":{"name":"brD1"},"mark":{"type":"rule","style":"brk"},"encoding":{"x":{"field":"x1","type":"quantitative"},"x2":{"field":"x2"},"y":{"field":"y","type":"quantitative"},"strokeDash":{"field":"d","type":"nominal","scale":{"domain":[0,1],"range":[[1,0],[3,2]]},"legend":null}}},
{"data":{"name":"brD1"},"transform":[{"fold":["x1","x2"],"as":["k","xe"]}],"mark":{"type":"tick","orient":"vertical","size":4,"thickness":1,"yOffset":2,"color":"#333"},"encoding":{"x":{"field":"xe","type":"quantitative"},"y":{"field":"y","type":"quantitative"}}},
{"data":{"values":[{"x":1,"y":0.22,"t":"*"},{"x":2,"y":0.22,"t":"**"},{"x":3,"y":0.21,"t":"m"},{"x":4.34,"y":0.77,"t":"m"}]},"mark":{"type":"text","style":"sig"},"encoding":{"x":{"field":"x","type":"quantitative"},"y":{"field":"y","type":"quantitative"},"text":{"field":"t"}}},
{"data":{"values":[{"x":1.42,"y":-2.0,"t":"150-200 ms"},{"x":1.39,"y":-1.73,"t":"Attend Vision"}]},"mark":{"type":"text","style":"ttl"},"encoding":{"x":{"field":"x","type":"quantitative"},"y":{"field":"y","type":"quantitative"},"text":{"field":"t"}}},
{"mark":{"type":"rule","style":"anc"},"encoding":{"x":{"datum":-0.62},"x2":{"datum":4.85},"y":{"datum":-2.2},"y2":{"datum":1.622}}}
]},
{"width":175,"height":129.7,
"data":{"values":[{"s":1,"v":-0.58,"lo":-0.74,"hi":-0.42},{"s":2,"v":-0.37,"lo":-0.54,"hi":-0.2},{"s":3,"v":-0.24,"lo":-0.44,"hi":-0.04},{"s":4,"v":-0.18,"lo":-0.46,"hi":0.1}]},
"layer":[
{"mark":{"type":"rule","style":"err"},"encoding":{"x":{"field":"s","type":"quantitative"},"y":{"field":"lo","type":"quantitative"},"y2":{"field":"hi"}}},
{"transform":[{"fold":["lo","hi"],"as":["k","e"]}],"mark":{"type":"tick","orient":"horizontal","size":3,"thickness":0.8,"color":"#555"},"encoding":{"x":{"field":"s","type":"quantitative"},"y":{"field":"e","type":"quantitative"}}},
{"mark":{"type":"bar","width":17.5,"color":"#000"},"encoding":{"x":{"field":"s","type":"quantitative","scale":{"domain":[0.5,4.5],"zero":false,"nice":false,"padding":0},"axis":{"values":[1,2,3,4],"title":"speaker","labelPadding":-3.0,"titleY":17.1}},"y":{"field":"v","type":"quantitative","scale":{"domain":[-1,0.315],"reverse":true,"zero":false,"nice":false},"axis":{"values":[-1,-0.8,-0.6,-0.4,-0.2,0,0.2],"title":["L8","[µV]"],"titleX":-6,"titleY":-24.4}},"y2":{"datum":0}}},
{"mark":{"type":"rule","style":"zero"},"encoding":{"y":{"datum":0}}},
{"mark":{"type":"rule","style":"yax"},"encoding":{"x":{"datum":0.5},"y":{"datum":-1},"y2":{"datum":0.2}}},
{"data":{"values":[{"x":1,"y":0.1,"t":"**"},{"x":2,"y":0.11,"t":"m"}]},"mark":{"type":"text","style":"sig"},"encoding":{"x":{"field":"x","type":"quantitative"},"y":{"field":"y","type":"quantitative"},"text":{"field":"t"}}},
{"data":{"values":[{"x":2.37,"y":-0.93,"t":"n.s"}]},"mark":{"type":"text","style":"ns"},"encoding":{"x":{"field":"x","type":"quantitative"},"y":{"field":"y","type":"quantitative"},"text":{"field":"t"}}},
{"data":{"values":[{"x":1.44,"y":-1.38,"t":"150-200 ms"},{"x":1.44,"y":-1.21,"t":"Attend Audition"}]},"mark":{"type":"text","style":"ttl"},"encoding":{"x":{"field":"x","type":"quantitative"},"y":{"field":"y","type":"quantitative"},"text":{"field":"t"}}},
{"mark":{"type":"rule","style":"anc"},"encoding":{"x":{"datum":-0.14},"x2":{"datum":4.96},"y":{"datum":-1.49},"y2":{"datum":0.61}}}
]},
{"width":170.7,"height":129.7,
"data":{"values":[{"s":1,"v":-0.76,"lo":-1.09,"hi":-0.43},{"s":2,"v":0.33,"lo":0.03,"hi":0.63},{"s":3,"v":-0.17,"lo":-0.42,"hi":0.11},{"s":4,"v":-0.01,"lo":-0.33,"hi":0.29}]},
"layer":[
{"mark":{"type":"rule","style":"err"},"encoding":{"x":{"field":"s","type":"quantitative"},"y":{"field":"lo","type":"quantitative"},"y2":{"field":"hi"}}},
{"transform":[{"fold":["lo","hi"],"as":["k","e"]}],"mark":{"type":"tick","orient":"horizontal","size":3,"thickness":0.8,"color":"#555"},"encoding":{"x":{"field":"s","type":"quantitative"},"y":{"field":"e","type":"quantitative"}}},
{"mark":{"type":"bar","width":17.5,"color":"#000"},"encoding":{"x":{"field":"s","type":"quantitative","scale":{"domain":[0.5,4.5],"zero":false,"nice":false,"padding":0},"axis":{"values":[1,2,3,4],"title":"speaker","labelPadding":-1.2,"titleY":21.5}},"y":{"field":"v","type":"quantitative","scale":{"domain":[-1.41,0.913],"reverse":true,"zero":false,"nice":false},"axis":{"values":[-1.2,-1,-0.8,-0.6,-0.4,-0.2,0,0.2,0.4,0.6,0.8],"title":["L8","[µV]"],"titleX":-11,"titleY":-13.8}},"y2":{"datum":0}}},
{"mark":{"type":"rule","style":"zero"},"encoding":{"y":{"datum":0}}},
{"mark":{"type":"rule","style":"yax"},"encoding":{"x":{"datum":0.5},"y":{"datum":-1.2},"y2":{"datum":0.8}}},
{"data":{"name":"brD3"},"mark":{"type":"rule","style":"brk"},"encoding":{"x":{"field":"x1","type":"quantitative"},"x2":{"field":"x2"},"y":{"field":"y","type":"quantitative"},"strokeDash":{"field":"d","type":"nominal","scale":{"domain":[0,1],"range":[[1,0],[3,2]]},"legend":null}}},
{"data":{"name":"brD3"},"transform":[{"fold":["x1","x2"],"as":["k","xe"]}],"mark":{"type":"tick","orient":"vertical","size":4,"thickness":1,"yOffset":2,"color":"#333"},"encoding":{"x":{"field":"xe","type":"quantitative"},"y":{"field":"y","type":"quantitative"}}},
{"data":{"values":[{"x":1,"y":0.26,"t":"*"}]},"mark":{"type":"text","style":"sig"},"encoding":{"x":{"field":"x","type":"quantitative"},"y":{"field":"y","type":"quantitative"},"text":{"field":"t"}}},
{"data":{"values":[{"x":1.79,"y":-2.07,"t":"225-275 ms"},{"x":1.79,"y":-1.8,"t":"Attend Vision"}]},"mark":{"type":"text","style":"ttl"},"encoding":{"x":{"field":"x","type":"quantitative"},"y":{"field":"y","type":"quantitative"},"text":{"field":"t"}}},
{"mark":{"type":"rule","style":"anc"},"encoding":{"x":{"datum":-0.3},"x2":{"datum":4.9},"y":{"datum":-2.275},"y2":{"datum":1.433}}}
]},
{"width":165.7,"height":129.7,
"data":{"values":[{"s":1,"v":0.005,"lo":-0.22,"hi":0.22},{"s":2,"v":0.32,"lo":0.05,"hi":0.59},{"s":3,"v":-0.04,"lo":-0.22,"hi":0.13},{"s":4,"v":-0.04,"lo":-0.29,"hi":0.2}]},
"layer":[
{"mark":{"type":"rule","style":"err"},"encoding":{"x":{"field":"s","type":"quantitative"},"y":{"field":"lo","type":"quantitative"},"y2":{"field":"hi"}}},
{"transform":[{"fold":["lo","hi"],"as":["k","e"]}],"mark":{"type":"tick","orient":"horizontal","size":3,"thickness":0.8,"color":"#555"},"encoding":{"x":{"field":"s","type":"quantitative"},"y":{"field":"e","type":"quantitative"}}},
{"mark":{"type":"bar","width":16.5,"color":"#000"},"encoding":{"x":{"field":"s","type":"quantitative","scale":{"domain":[0.5,4.5],"zero":false,"nice":false,"padding":0},"axis":{"values":[1,2,3,4],"title":"speaker","labelPadding":-1.2,"titleY":21.5}},"y":{"field":"v","type":"quantitative","scale":{"domain":[-1.014,0.647],"reverse":true,"zero":false,"nice":false},"axis":{"values":[-0.8,-0.6,-0.4,-0.2,0,0.2,0.4,0.6],"title":["L8","[µV]"],"titleX":-6,"titleY":-13.8}},"y2":{"datum":0}}},
{"mark":{"type":"rule","style":"zero"},"encoding":{"y":{"datum":0}}},
{"mark":{"type":"rule","style":"yax"},"encoding":{"x":{"datum":0.5},"y":{"datum":-0.8},"y2":{"datum":0.6}}},
{"data":{"values":[{"x":2.17,"y":-0.86,"t":"n.s."}]},"mark":{"type":"text","style":"ns"},"encoding":{"x":{"field":"x","type":"quantitative"},"y":{"field":"y","type":"quantitative"},"text":{"field":"t"}}},
{"data":{"values":[{"x":1.51,"y":-1.53,"t":"225-275 ms"},{"x":1.51,"y":-1.33,"t":"Attend Audition"}]},"mark":{"type":"text","style":"ttl"},"encoding":{"x":{"field":"x","type":"quantitative"},"y":{"field":"y","type":"quantitative"},"text":{"field":"t"}}},
{"mark":{"type":"rule","style":"anc"},"encoding":{"x":{"datum":-0.16},"x2":{"datum":5.1},"y":{"datum":-1.632},"y2":{"datum":1.018}}}
]},
{"width":144,"height":129.7,
"data":{"values":[{"s":1,"v":0.75,"lo":0.18,"hi":1.32},{"s":2,"v":0.81,"lo":0.33,"hi":1.29},{"s":3,"v":0.57,"lo":0.1,"hi":1.04},{"s":4,"v":0.83,"lo":0.37,"hi":1.29}]},
"layer":[
{"mark":{"type":"rule","style":"err"},"encoding":{"x":{"field":"s","type":"quantitative"},"y":{"field":"lo","type":"quantitative"},"y2":{"field":"hi"}}},
{"transform":[{"fold":["lo","hi"],"as":["k","e"]}],"mark":{"type":"tick","orient":"horizontal","size":3,"thickness":0.8,"color":"#555"},"encoding":{"x":{"field":"s","type":"quantitative"},"y":{"field":"e","type":"quantitative"}}},
{"mark":{"type":"bar","width":14.5,"color":"#000"},"encoding":{"x":{"field":"s","type":"quantitative","scale":{"domain":[0.5,4.5],"zero":false,"nice":false,"padding":0},"axis":{"values":[1,2,3,4],"title":"speaker","labelPadding":-0.2,"titleY":23.2}},"y":{"field":"v","type":"quantitative","scale":{"domain":[-1.105,2.138],"reverse":true,"zero":false,"nice":false},"axis":{"values":[0.1,0.5,0.9,1.3],"title":["L1","[µV]"],"titleX":-8.3,"titleY":0}},"y2":{"datum":0}}},
{"mark":{"type":"rule","style":"zero"},"encoding":{"y":{"datum":0}}},
{"mark":{"type":"rule","style":"yax"},"encoding":{"x":{"datum":0.5},"y":{"datum":0},"y2":{"datum":1.55}}},
{"data":{"values":[{"x":3.99,"y":1.58,"t":"m"}]},"mark":{"type":"text","style":"sig"},"encoding":{"x":{"field":"x","type":"quantitative"},"y":{"field":"y","type":"quantitative"},"text":{"field":"t"}}},
{"data":{"values":[{"x":2.32,"y":-0.98,"t":"n.s."}]},"mark":{"type":"text","style":"ns"},"encoding":{"x":{"field":"x","type":"quantitative"},"y":{"field":"y","type":"quantitative"},"text":{"field":"t"}}},
{"data":{"values":[{"x":1.47,"y":-2.04,"t":"225-275 ms"},{"x":1.47,"y":-1.71,"t":"Attend Vision"}]},"mark":{"type":"text","style":"ttl"},"encoding":{"x":{"field":"x","type":"quantitative"},"y":{"field":"y","type":"quantitative"},"text":{"field":"t"}}},
{"mark":{"type":"rule","style":"anc"},"encoding":{"x":{"datum":-0.45},"x2":{"datum":5.1},"y":{"datum":-2.31},"y2":{"datum":2.865}}}
]},
{"width":180.7,"height":129.7,
"data":{"values":[{"s":1,"v":0.85,"lo":0.48,"hi":1.22},{"s":2,"v":1.54,"lo":1.12,"hi":1.96},{"s":3,"v":0.81,"lo":0.57,"hi":1.05},{"s":4,"v":0.67,"lo":0.29,"hi":1.05}]},
"layer":[
{"mark":{"type":"rule","style":"err"},"encoding":{"x":{"field":"s","type":"quantitative"},"y":{"field":"lo","type":"quantitative"},"y2":{"field":"hi"}}},
{"transform":[{"fold":["lo","hi"],"as":["k","e"]}],"mark":{"type":"tick","orient":"horizontal","size":3,"thickness":0.8,"color":"#555"},"encoding":{"x":{"field":"s","type":"quantitative"},"y":{"field":"e","type":"quantitative"}}},
{"mark":{"type":"bar","width":17.5,"color":"#000"},"encoding":{"x":{"field":"s","type":"quantitative","scale":{"domain":[0.5,4.5],"zero":false,"nice":false,"padding":0},"axis":{"values":[1,2,3,4],"title":"speaker","labelPadding":-0.2,"titleY":23.2}},"y":{"field":"v","type":"quantitative","scale":{"domain":[-0.982,2.0],"reverse":true,"zero":false,"nice":false},"axis":{"values":[0.1,0.5,0.9,1.3,1.7],"title":["L1","[µV]"],"titleX":-14.3,"titleY":2.2}},"y2":{"datum":0}}},
{"mark":{"type":"rule","style":"zero"},"encoding":{"y":{"datum":0}}},
{"mark":{"type":"rule","style":"yax"},"encoding":{"x":{"datum":0.5},"y":{"datum":0},"y2":{"datum":2}}},
{"data":{"values":[{"x":1,"y":1.47,"t":"*"},{"x":2.25,"y":1.92,"t":"**"},{"x":3,"y":1.3,"t":"**"}]},"mark":{"type":"text","style":"sig"},"encoding":{"x":{"field":"x","type":"quantitative"},"y":{"field":"y","type":"quantitative"},"text":{"field":"t"}}},
{"data":{"values":[{"x":2.18,"y":-0.87,"t":"n.s."}]},"mark":{"type":"text","style":"ns"},"encoding":{"x":{"field":"x","type":"quantitative"},"y":{"field":"y","type":"quantitative"},"text":{"field":"t"}}},
{"data":{"values":[{"x":1.34,"y":-1.9,"t":"225-275 ms"},{"x":1.34,"y":-1.53,"t":"Attend Audition"}]},"mark":{"type":"text","style":"ttl"},"encoding":{"x":{"field":"x","type":"quantitative"},"y":{"field":"y","type":"quantitative"},"text":{"field":"t"}}},
{"mark":{"type":"rule","style":"anc"},"encoding":{"x":{"datum":-0.15},"x2":{"datum":4.59},"y":{"datum":-2.09},"y2":{"datum":2.667}}}
]}
], "spacing": 0}
]
}
